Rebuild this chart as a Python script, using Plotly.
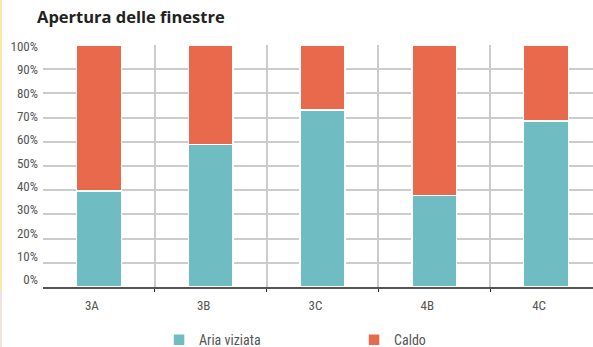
import plotly.graph_objects as go

# === Data ===
classi = ["3A", "3B", "3C", "4B", "4C"]
aria_viziata = [39.6, 58.8, 73.1, 37.9, 68.6]
caldo = [100 - v for v in aria_viziata]
y_ticks = [0, 10, 20, 30, 40, 50, 60, 70, 80, 90, 100]
y_labels = [f"{v}%" for v in y_ticks]

W, H = 593, 347
ML, MR, MT, MB = 43, 0, 45, 60
plot_w = W - ML - MR
plot_h = H - MT - MB

fig = go.Figure()

fig.add_trace(go.Bar(
    x=list(range(len(classi))), y=aria_viziata, name="Aria viziata",
    marker=dict(color="#6fbcc2", line=dict(color="white", width=1.5)),
    width=0.4,
))
fig.add_trace(go.Bar(
    x=list(range(len(classi))), y=caldo, name="Caldo",
    marker=dict(color="#e9694c", line=dict(color="white", width=1.5)),
    width=0.4,
))
# invisible trace so the label-only axis (y2) gets drawn
fig.add_trace(go.Scatter(x=[0], y=[0], yaxis="y2", mode="markers",
                         marker=dict(opacity=0), hoverinfo="skip", showlegend=False))

# pale border on the left edge of the page
edge_x = -(ML - 1) / plot_w
fig.add_shape(type="line", xref="paper", yref="paper",
              x0=edge_x, x1=edge_x, y0=-3 / plot_h, y1=1 + MT / plot_h,
              line=dict(color="#fbe7a6", width=2), layer="above")
fig.add_shape(type="line", xref="paper", yref="paper",
              x0=edge_x, x1=edge_x, y0=-MB / plot_h, y1=-3 / plot_h,
              line=dict(color="#ece6e2", width=2), layer="above")

cond = "Roboto Condensed, Liberation Sans Narrow, Roboto, sans-serif"

fig.update_layout(
    width=W, height=H,
    margin=dict(l=ML, r=MR, t=MT, b=MB, autoexpand=False),
    barmode="stack",
    bargap=0.6,
    paper_bgcolor="white",
    plot_bgcolor="white",
    title=dict(text="Apertura delle finestre", x=37 / W, xanchor="left",
               y=1 - 17 / H, yanchor="middle",
               font=dict(family="Open Sans", size=16.5, weight=700, color="#222222")),
    font=dict(family=cond, size=13, color="#555555"),
    xaxis=dict(
        range=[-0.5, 4.42], automargin=False,
        tickmode="array", tickvals=list(range(len(classi))), ticktext=classi,
        showgrid=False, ticks="", showline=True, linecolor="#555555", linewidth=1.5,
        zeroline=False, fixedrange=True, ticklabelshift=-7, ticklabelstandoff=6,
        minor=dict(tickmode="array", tickvals=[0.5, 1.5, 2.5, 3.5], showgrid=True,
                   gridcolor="#cccccc", gridwidth=1.5, ticks="outside", ticklen=3,
                   tickcolor="#222222", tickwidth=1),
        tickfont=dict(size=13, color="#555555"),
    ),
    yaxis=dict(
        range=[0, 100], automargin=False, fixedrange=True,
        showticklabels=False, showgrid=False, zeroline=False, ticks="",
        minor=dict(tickmode="array", tickvals=y_ticks[1:-1], showgrid=True,
                   gridcolor="#cccccc", gridwidth=1.5),
    ),
    # labels sit on a slightly tighter scale than the gridlines, as in the original
    yaxis2=dict(
        overlaying="y", side="left", range=[-3.2, 100.7], automargin=False,
        fixedrange=True, tickmode="array", tickvals=y_ticks, ticktext=y_labels,
        showgrid=False, zeroline=False, ticks="", ticklabelstandoff=4,
        tickfont=dict(size=13, color="#555555"),
    ),
    legend=dict(orientation="h", x=0.211, xanchor="left", y=-0.153, yanchor="top",
                entrywidth=150, font=dict(size=14, color="#555555"),
                traceorder="normal"),
    showlegend=True,
)

fig.write_html("out.html", config={"displayModeBar": False},
               post_script="document.body.style.margin='0';")
